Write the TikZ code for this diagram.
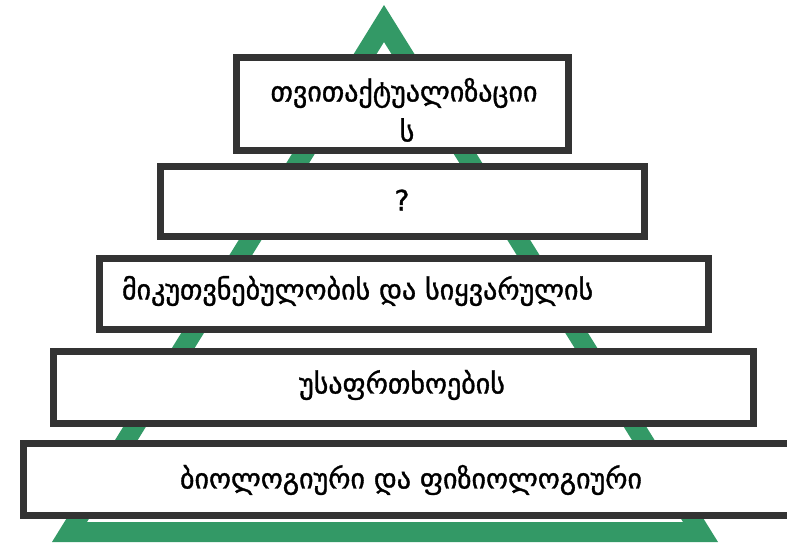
\documentclass[tikz,border=0pt]{standalone}
\usepackage{fontspec}
\setmainfont{DejaVu Sans}
\newfontfamily\geofont[FakeBold=1.2]{DejaVu Sans}
\definecolor{pgreen}{RGB}{51,153,102}
\definecolor{pgray}{RGB}{51,51,51}
\tikzset{
  box/.style={draw=pgray, line width=7pt, fill=white, rectangle, inner sep=0pt, outer sep=0pt},
  lbl/.style={inner sep=0pt, outer sep=0pt, font=\geofont\fontsize{28}{32}\selectfont, text=black}
}
\begin{document}
\begin{tikzpicture}[x=1pt,y=-1pt]
\useasboundingbox (0,0) rectangle (787,542);
\clip (0,0) rectangle (787,542);
\fill[pgreen, even odd rule] (384,5) -- (52,542) -- (718,542) -- cycle
  (384,42) -- (87,522) -- (683,522) -- cycle;
\node[box, minimum width=332pt, minimum height=93pt] (b1) at (402.5,104) {};
\node[box, minimum width=484pt, minimum height=70pt] (b2) at (402.5,201.5) {};
\node[box, minimum width=609pt, minimum height=71pt] (b3) at (404,294) {};
\node[box, minimum width=700pt, minimum height=72pt] (b4) at (403.5,387.5) {};
\node[box, minimum width=773pt, minimum height=72pt] (b5) at (410,479.5) {};
\node[lbl] (t1) at (404,93) {თვითაქტუალიზაციი};
\node[lbl] (t1b) at (407,130) {ს};
\node[lbl] (t2) at (402,200) {?};
\node[lbl, anchor=west] (t3) at (122,291) {მიკუთვნებულობის და სიყვარულის};
\node[lbl] (t4) at (402,385) {უსაფრთხოების};
\node[lbl] (t5) at (411,480) {ბიოლოგიური და ფიზიოლოგიური};
\end{tikzpicture}
\end{document}
